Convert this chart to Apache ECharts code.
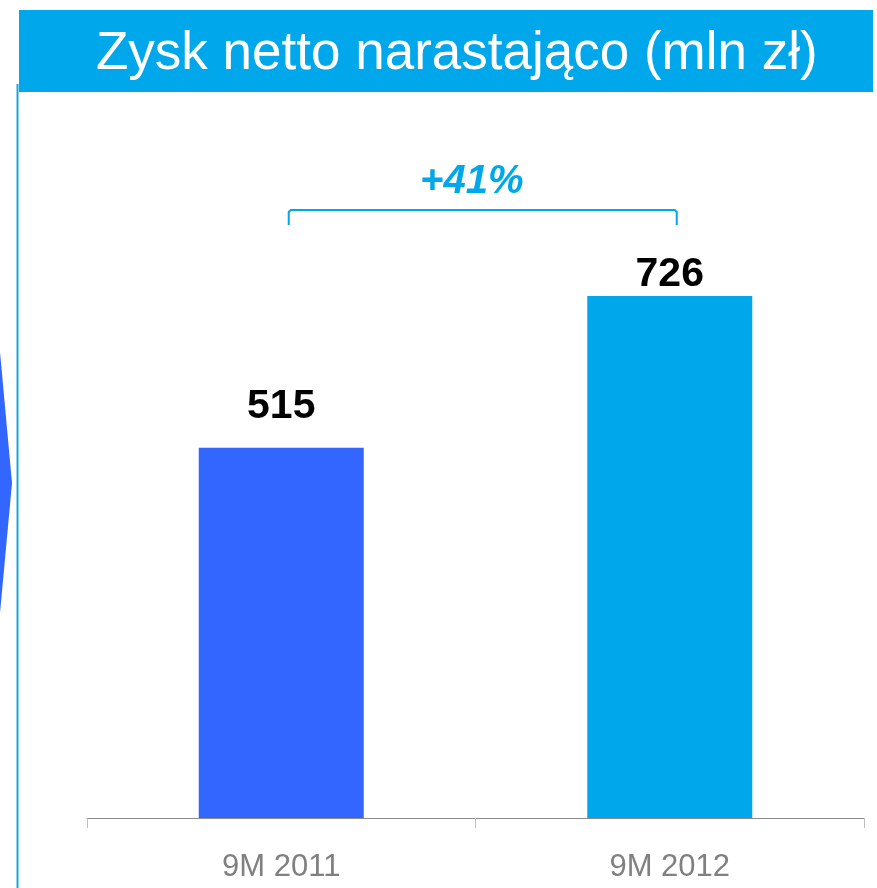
<!DOCTYPE html>
<html>
<head>
<meta charset="utf-8">
<script src="https://cdn.jsdelivr.net/npm/echarts@6/dist/echarts.min.js"></script>
<style>
html,body{margin:0;padding:0;background:#fff;}
#chart{width:877px;height:888px;}
</style>
</head>
<body>
<div id="chart"></div>
<script>
const titleText = 'Zysk netto narastająco (mln zł)';
const categories = ['9M 2011', '9M 2012'];
const values = [515, 726];
const barColors = ['#3366FF', '#00A8EB'];

const FONT = '"Liberation Sans", Arial, sans-serif';
const BLUE = '#00A8EB';
const labelDistances = [21, 1];
const growth = Math.round((values[1] / values[0] - 1) * 100);

const chart = echarts.init(document.getElementById('chart'), null, {renderer: 'canvas'});

const baseGraphics = [
  {type: 'rect', shape: {x: 19, y: 10, width: 854, height: 82}, style: {fill: BLUE}, z: 1},
  {type: 'line', shape: {x1: 17.5, y1: 84, x2: 17.5, y2: 888}, style: {stroke: '#1BA3DB', lineWidth: 2}, z: 1},
  {type: 'polygon', shape: {points: [[0, 352], [12, 483], [0, 613]]}, style: {fill: '#3366FF'}, z: 1}
];

const option = {
  animation: false,
  backgroundColor: '#ffffff',
  title: {
    text: titleText,
    left: 96,
    top: 28,
    padding: 0,
    textStyle: {
      color: '#ffffff',
      fontFamily: FONT,
      fontSize: 53,
      fontWeight: 'normal',
      lineHeight: 53
    },
    z: 10
  },
  grid: {left: 87, right: 13, top: 99, bottom: 70, containLabel: false},
  xAxis: {
    type: 'category',
    data: categories,
    boundaryGap: true,
    axisLine: {lineStyle: {color: '#8c8c8c', width: 1}},
    axisTick: {show: true, length: 10, lineStyle: {color: '#c0c0c0', width: 1}},
    axisLabel: {color: '#808080', fontFamily: FONT, fontSize: 31, margin: 34}
  },
  yAxis: {
    type: 'value',
    min: 0,
    max: 1000,
    show: false,
    splitLine: {show: false}
  },
  series: [{
    type: 'bar',
    barWidth: 165,
    data: values.map((v, i) => ({
      value: v,
      itemStyle: {color: barColors[i]},
      label: {distance: labelDistances[i]}
    })),
    label: {
      show: true,
      position: 'top',
      color: '#000000',
      fontFamily: FONT,
      fontSize: 41,
      fontWeight: 'bold',
      lineHeight: 41
    }
  }],
  graphic: baseGraphics
};
chart.setOption(option);

// bracket and growth annotation, positioned from the category scale
const x0 = chart.convertToPixel({xAxisIndex: 0}, categories[0]) + 7.5;
const x1 = chart.convertToPixel({xAxisIndex: 0}, categories[1]) + 7;
chart.setOption({
  graphic: baseGraphics.concat([
    {type: 'polyline', shape: {points: [[x0, 225], [x0, 212], [x0 + 2, 210], [x1 - 2, 210], [x1, 212], [x1, 225]]},
      style: {stroke: BLUE, lineWidth: 2, fill: null}, z: 5},
    {type: 'text', x: (x0 + x1) / 2 - 11, y: 182,
      style: {text: '+' + growth + '%', fill: BLUE, font: 'italic bold 40px ' + FONT,
        textAlign: 'center', textVerticalAlign: 'middle'}, z: 5}
  ])
}, {replaceMerge: ['graphic']});
</script>
</body>
</html>
